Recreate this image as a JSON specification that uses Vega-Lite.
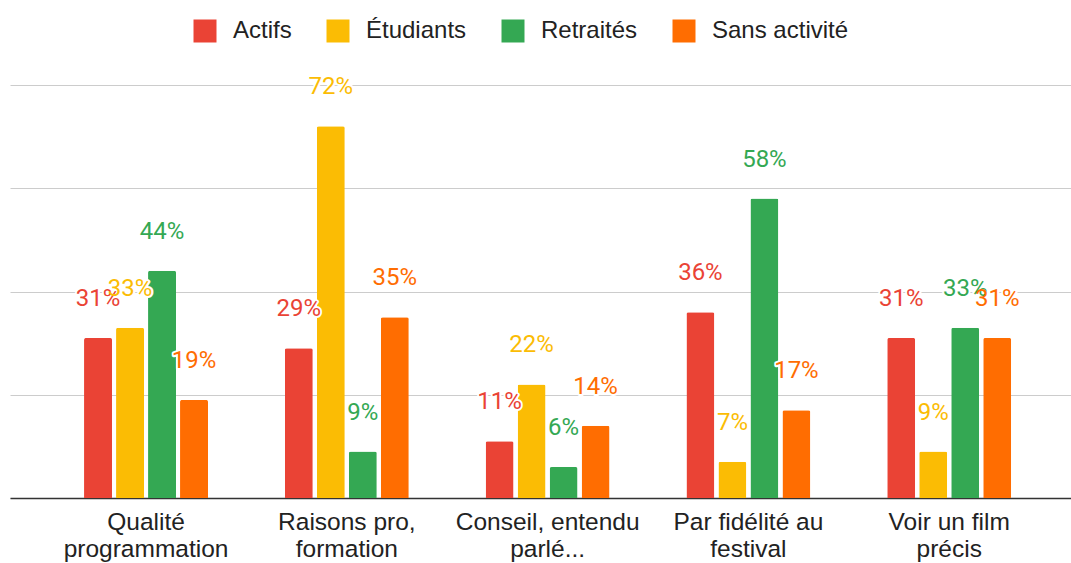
{
  "$schema": "https://vega.github.io/schema/vega-lite/v6.json",
  "width": 1061,
  "height": 413,
  "autosize": {"type": "none"},
  "padding": {"left": 10, "top": 85, "right": 0, "bottom": 65},
  "config": {"view": {"stroke": null}, "font": "Roboto"},
  "data": {
    "values": [
      {"motif": "Qualité\nprogrammation", "groupe": "Actifs", "pct": 0.31},
      {"motif": "Qualité\nprogrammation", "groupe": "Étudiants", "pct": 0.33},
      {"motif": "Qualité\nprogrammation", "groupe": "Retraités", "pct": 0.44},
      {"motif": "Qualité\nprogrammation", "groupe": "Sans activité", "pct": 0.19},
      {"motif": "Raisons pro,\nformation", "groupe": "Actifs", "pct": 0.29},
      {"motif": "Raisons pro,\nformation", "groupe": "Étudiants", "pct": 0.72},
      {"motif": "Raisons pro,\nformation", "groupe": "Retraités", "pct": 0.09},
      {"motif": "Raisons pro,\nformation", "groupe": "Sans activité", "pct": 0.35},
      {"motif": "Conseil, entendu\nparlé...", "groupe": "Actifs", "pct": 0.11},
      {"motif": "Conseil, entendu\nparlé...", "groupe": "Étudiants", "pct": 0.22},
      {"motif": "Conseil, entendu\nparlé...", "groupe": "Retraités", "pct": 0.06},
      {"motif": "Conseil, entendu\nparlé...", "groupe": "Sans activité", "pct": 0.14},
      {"motif": "Par fidélité au\nfestival", "groupe": "Actifs", "pct": 0.36},
      {"motif": "Par fidélité au\nfestival", "groupe": "Étudiants", "pct": 0.07},
      {"motif": "Par fidélité au\nfestival", "groupe": "Retraités", "pct": 0.58},
      {"motif": "Par fidélité au\nfestival", "groupe": "Sans activité", "pct": 0.17},
      {"motif": "Voir un film\nprécis", "groupe": "Actifs", "pct": 0.31},
      {"motif": "Voir un film\nprécis", "groupe": "Étudiants", "pct": 0.09},
      {"motif": "Voir un film\nprécis", "groupe": "Retraités", "pct": 0.33},
      {"motif": "Voir un film\nprécis", "groupe": "Sans activité", "pct": 0.31}
    ]
  },
  "encoding": {
    "x": {
      "field": "motif",
      "type": "nominal",
      "sort": null,
      "scale": {"paddingInner": 0, "paddingOuter": 0.142, "align": 0.625},
      "axis": {
        "title": null,
        "ticks": false,
        "labelAngle": 0,
        "labelExpr": "split(datum.label, '\\n')",
        "labelFont": "Liberation Sans",
        "labelFontSize": 24.5,
        "labelLineHeight": 27,
        "labelColor": "#222222",
        "labelPadding": 12,
        "labelLimit": 0,
        "domainColor": "#333333",
        "domainWidth": 1.5
      }
    },
    "xOffset": {
      "field": "groupe",
      "type": "nominal",
      "scale": {
        "domain": ["_g", "Actifs", "Étudiants", "Retraités", "Sans activité", "_d"],
        "paddingInner": 0.125,
        "paddingOuter": 0.2
      }
    },
    "y": {
      "field": "pct",
      "type": "quantitative",
      "scale": {"domain": [0, 0.8]},
      "axis": {
        "title": null,
        "values": [0, 0.2, 0.4, 0.6, 0.8],
        "labels": false,
        "ticks": false,
        "domain": false,
        "gridColor": "#cccccc",
        "gridWidth": 1
      }
    }
  },
  "layer": [
    {
      "mark": {"type": "bar", "cornerRadiusTopLeft": 2, "cornerRadiusTopRight": 2},
      "encoding": {
        "color": {
          "field": "groupe",
          "type": "nominal",
          "scale": {
            "domain": ["Actifs", "Étudiants", "Retraités", "Sans activité"],
            "range": ["#ea4335", "#fbbc04", "#34a853", "#ff6d01"]
          },
          "legend": {
            "title": null,
            "orient": "none",
            "direction": "horizontal",
            "legendX": 183,
            "legendY": -66,
            "symbolType": "square",
            "symbolSize": 529,
            "symbolStrokeWidth": 0,
            "labelFont": "Liberation Sans",
            "labelFontSize": 24,
            "labelColor": "#222222",
            "labelOffset": 16,
            "columnPadding": 34
          }
        }
      }
    },
    {
      "mark": {"type": "text", "baseline": "middle", "dy": -39, "fontSize": 24, "fill": "white", "stroke": "white", "strokeWidth": 4, "strokeJoin": "round"},
      "encoding": {"text": {"field": "pct", "type": "quantitative", "format": ".0%"}}
    },
    {
      "mark": {"type": "text", "baseline": "middle", "dy": -39, "fontSize": 24},
      "encoding": {
        "text": {"field": "pct", "type": "quantitative", "format": ".0%"},
        "color": {"field": "groupe", "type": "nominal", "legend": null}
      }
    }
  ]
}
